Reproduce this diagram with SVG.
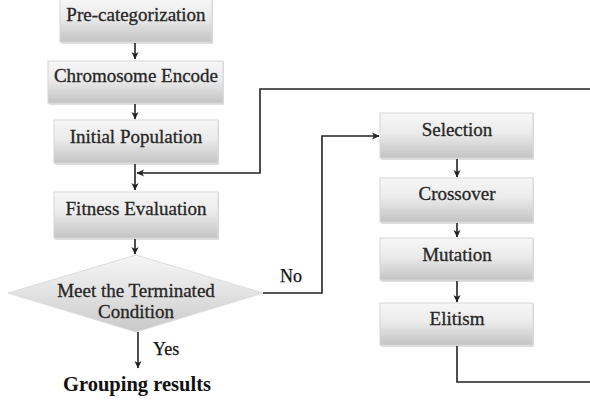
<svg xmlns="http://www.w3.org/2000/svg" width="590" height="403" viewBox="0 0 590 403">
<style>
.box{fill:url(#g);stroke:#d6d6d6;stroke-width:1}
.sh{fill:#c4c4c4;opacity:0.55}
.t{font-family:"Liberation Serif","Times New Roman",serif;font-size:19px;fill:#262626;stroke:#262626;stroke-width:0.3;text-anchor:middle}
.l{font-family:"Liberation Serif","Times New Roman",serif;font-size:18px;fill:#111;stroke:#111;stroke-width:0.25}
.c{fill:none;stroke:#222;stroke-width:1.6}
</style>
<defs>
<linearGradient id="g" x1="0" y1="0" x2="0" y2="1">
<stop offset="0" stop-color="#f7f7f7"/>
<stop offset="0.45" stop-color="#ebebeb"/>
<stop offset="1" stop-color="#c3c3c3"/>
</linearGradient>
<linearGradient id="gd" x1="0" y1="0" x2="0" y2="1">
<stop offset="0" stop-color="#f6f6f6"/>
<stop offset="0.5" stop-color="#e2e2e2"/>
<stop offset="1" stop-color="#c9c9c9"/>
</linearGradient>
<marker id="a" markerWidth="10" markerHeight="10" refX="8" refY="5" orient="auto" markerUnits="userSpaceOnUse">
<path d="M1,1.5 L8.5,5 L1,8.5 L3,5 z" fill="#222"/>
</marker>
</defs>

<g id="pre"><rect class="sh" x="61" y="-1" width="152" height="45"/><rect class="box" x="60" y="-2" width="152" height="44"/><text class="t" x="136" y="21">Pre-categorization</text></g>
<g id="chrom"><rect class="sh" x="49" y="62" width="175" height="43"/><rect class="box" x="48" y="61" width="175" height="42"/><text class="t" x="136" y="82">Chromosome Encode</text></g>
<g id="init"><rect class="sh" x="55" y="121" width="164" height="44"/><rect class="box" x="54" y="120" width="164" height="43"/><text class="t" x="136" y="143">Initial Population</text></g>
<g id="fit"><rect class="sh" x="55" y="193" width="164" height="47"/><rect class="box" x="54" y="192" width="164" height="46"/><text class="t" x="136" y="215">Fitness Evaluation</text></g>
<g id="cond"><polygon points="136,255 263,293 136,332 8,293" fill="url(#gd)" stroke="#dcdcdc" stroke-width="1"/><text class="t" x="136" y="297">Meet the Terminated</text><text class="t" x="136" y="318">Condition</text></g>
<g id="result"><text x="137" y="391" font-family="'Liberation Serif','Times New Roman',serif" font-size="20.5" font-weight="bold" fill="#111" text-anchor="middle">Grouping results</text></g>

<g id="sel"><rect class="sh" x="381" y="114" width="153" height="46"/><rect class="box" x="380" y="113" width="153" height="45"/><text class="t" x="457" y="136">Selection</text></g>
<g id="cross"><rect class="sh" x="381" y="179" width="153" height="45"/><rect class="box" x="380" y="178" width="153" height="44"/><text class="t" x="457" y="200">Crossover</text></g>
<g id="mut"><rect class="sh" x="381" y="239" width="153" height="43"/><rect class="box" x="380" y="238" width="153" height="42"/><text class="t" x="457" y="261">Mutation</text></g>
<g id="elit"><rect class="sh" x="381" y="304" width="153" height="43"/><rect class="box" x="380" y="303" width="153" height="42"/><text class="t" x="457" y="325">Elitism</text></g>

<g id="connectors">
<path class="c" d="M135,43 V59" marker-end="url(#a)"/>
<path class="c" d="M135,104 V119" marker-end="url(#a)"/>
<path class="c" d="M135,164 V190" marker-end="url(#a)"/>
<path class="c" d="M135,239 V254" marker-end="url(#a)"/>
<path class="c" d="M138,332 V368" marker-end="url(#a)"/>
<path class="c" d="M590,89 H260 V173 H137" marker-end="url(#a)"/>
<path class="c" d="M263,293 H322 V136 H379" marker-end="url(#a)"/>
<path class="c" d="M457,159 V177" marker-end="url(#a)"/>
<path class="c" d="M457,223 V237" marker-end="url(#a)"/>
<path class="c" d="M457,281 V302" marker-end="url(#a)"/>
<path class="c" d="M457,346 V382 H590"/>
<text class="l" x="153" y="355">Yes</text>
<text class="l" x="280" y="282">No</text>
</g>
</svg>
